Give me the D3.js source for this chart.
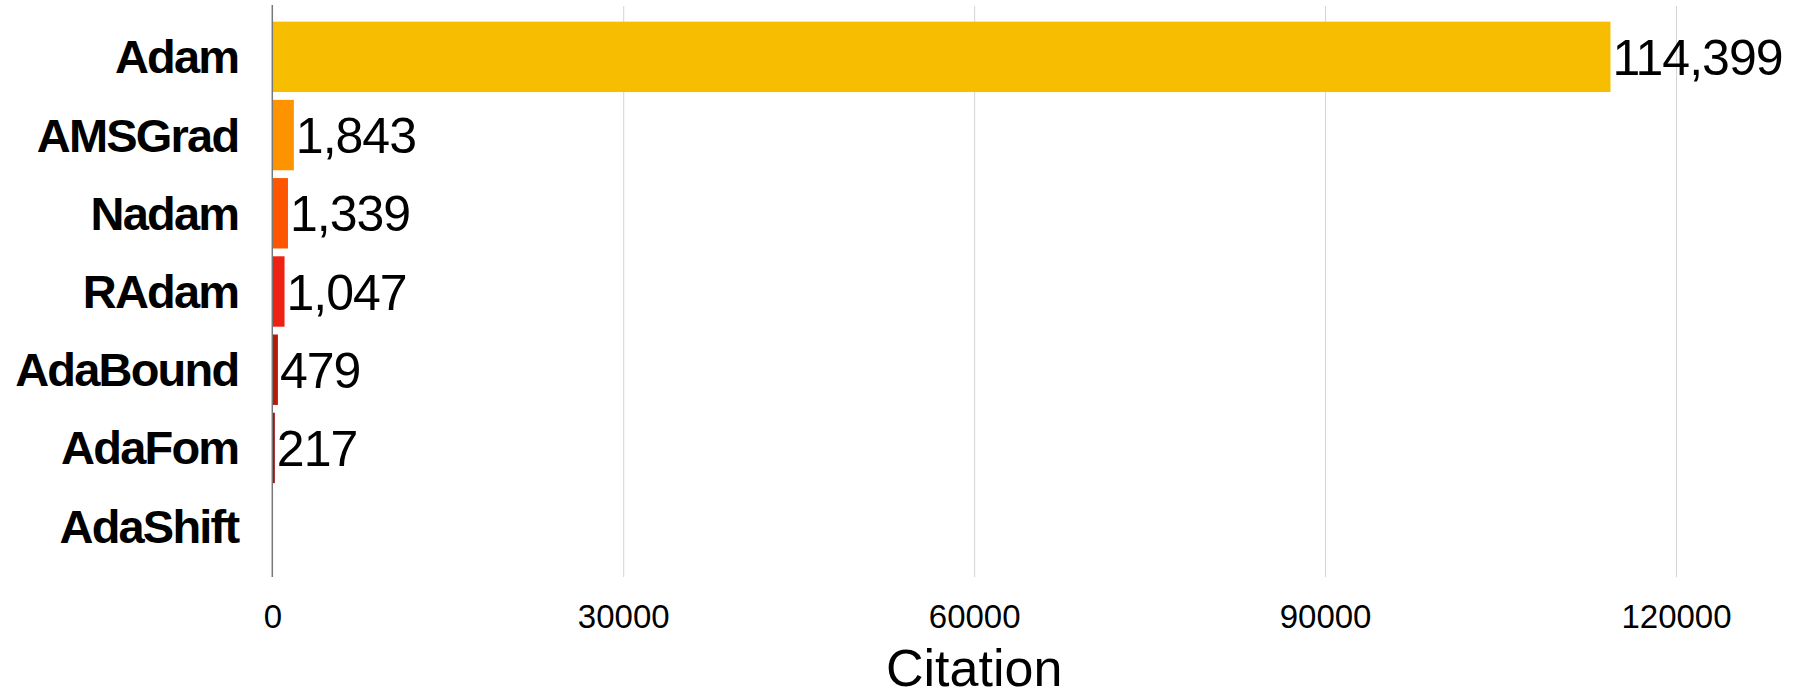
<!DOCTYPE html>
<html lang="en">
<head>
<meta charset="UTF-8">
<title>Optimizer citations</title>
<script src="https://d3js.org/d3.v7.min.js"></script>
<style>
  body {margin: 0; background: #fff;}
  text {font-family: "Liberation Sans", Arial, Helvetica, sans-serif;}
</style>
</head>
<body>
<div id="chart"></div>
<script>
// data
var optimizers = ["Adam", "AMSGrad", "Nadam", "RAdam", "AdaBound", "AdaFom", "AdaShift"];
var citations = [114399, 1843, 1339, 1047, 479, 217, 0];
var barColors = ["#F7BD00", "#FE9300", "#FE5600", "#EE2212", "#B51A0B", "#9E1010", "#7A0A0A"];
var xTicks = [0, 30000, 60000, 90000, 120000];
var xTitle = "Citation";

var w = 1798, h = 692;
// plot edges (note: "top" is reserved on window, so use other names)
var plotLeft = 272.3, plotRight = 1676, plotTop = 6, plotBottom = 577;

var svg = d3.select("#chart").append("svg")
    .attr("width", w)
    .attr("height", h);

var x = d3.scaleLinear().domain([0, 120000]).range([plotLeft, plotRight]);
var y = d3.scaleBand().domain(optimizers).range([plotTop, plotBottom])
    .paddingInner(0.1).paddingOuter(0.2);

// gridlines
svg.append("g")
    .attr("transform", "translate(0," + plotBottom + ")")
    .call(d3.axisBottom(x).tickValues(xTicks.slice(1)).tickSize(-(plotBottom - plotTop)).tickFormat(""))
    .call(function(g) { g.select(".domain").remove(); })
    .selectAll("line")
    .attr("stroke", "#d3d3d3")
    .attr("stroke-width", 1);

// tick labels
svg.append("g")
    .attr("transform", "translate(0," + plotBottom + ")")
    .call(d3.axisBottom(x).tickValues(xTicks).tickSize(0).tickPadding(27.5).tickFormat(d3.format("d")))
    .call(function(g) { g.select(".domain").remove(); })
    .selectAll("text")
    .attr("font-family", "'Liberation Sans', Arial, sans-serif")
    .attr("font-size", "33px")
    .attr("fill", "#000");

// bars
svg.selectAll("rect.bar").data(optimizers).enter().append("rect")
    .attr("class", "bar")
    .attr("x", x(0))
    .attr("y", function(d) { return y(d); })
    .attr("width", function(d, i) { return x(citations[i]) - x(0); })
    .attr("height", y.bandwidth())
    .attr("fill", function(d, i) { return barColors[i]; });

// value labels
svg.selectAll("text.value").data(optimizers.filter(function(d, i) { return citations[i] > 0; }))
    .enter().append("text")
    .attr("class", "value")
    .attr("x", function(d) { return x(citations[optimizers.indexOf(d)]) + 2; })
    .attr("y", function(d) { return y(d) + y.bandwidth() / 2; })
    .attr("dy", "0.36em")
    .attr("font-size", "50px")
    .attr("letter-spacing", "-1px")
    .attr("fill", "#000")
    .text(function(d) { return d3.format(",")(citations[optimizers.indexOf(d)]); });

// y axis line
svg.append("line")
    .attr("x1", x(0)).attr("x2", x(0))
    .attr("y1", plotTop - 1).attr("y2", plotBottom)
    .attr("stroke", "#777")
    .attr("stroke-width", 1.5);

// category labels
svg.selectAll("text.cat").data(optimizers).enter().append("text")
    .attr("class", "cat")
    .attr("x", x(0) - 34)
    .attr("y", function(d) { return y(d) + y.bandwidth() / 2; })
    .attr("dy", "0.35em")
    .attr("text-anchor", "end")
    .attr("font-size", "47px")
    .attr("font-weight", "bold")
    .attr("letter-spacing", "-1.8px")
    .attr("fill", "#000")
    .text(function(d) { return d; });

// axis title
svg.append("text")
    .attr("x", (plotLeft + plotRight) / 2)
    .attr("y", 686)
    .attr("text-anchor", "middle")
    .attr("font-size", "52px")
    .attr("fill", "#000")
    .text(xTitle);
</script>
</body>
</html>
